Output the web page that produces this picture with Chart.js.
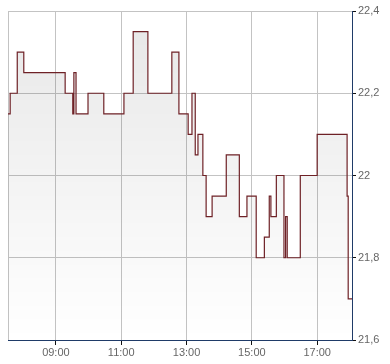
<!DOCTYPE html>
<html>
<head>
<meta charset="utf-8">
<script src="https://cdn.jsdelivr.net/npm/chart.js@4/dist/chart.umd.min.js"></script>
<style>
html,body{margin:0;padding:0;background:#fff;}
#wrap{width:390px;height:364px;position:relative;}
</style>
</head>
<body>
<div id="wrap"><canvas id="c"></canvas></div>
<script>
const times = ['07:32','07:36','07:49','08:01','09:17','09:31','09:33','09:37','09:59','10:28','11:05','11:22','11:49','12:33','12:46','13:03','13:10','13:16','13:21','13:30','13:36','13:47','14:13','14:37','14:51','15:08','15:23','15:32','15:35','15:45','15:59','16:02','16:05','16:29','17:00','17:55','17:57','18:04'];
const prices = [22.15,22.2,22.3,22.25,22.2,22.15,22.25,22.15,22.2,22.15,22.2,22.35,22.2,22.3,22.15,22.1,22.2,22.05,22.1,22.0,21.9,21.95,22.05,21.9,21.95,21.8,21.85,21.95,21.9,22.0,21.8,21.9,21.8,22.0,22.1,21.95,21.7,21.7];
const xTickLabels = ['09:00','11:00','13:00','15:00','17:00'];
const yTickValues = [21.6,21.8,22.0,22.2,22.4];
const xRange = ['07:32','18:04'];

function toMin(s){const p=s.split(':');return (+p[0])*60+(+p[1]);}
function fmtMin(m){const h=Math.floor(m/60),mm=Math.round(m%60);return String(h).padStart(2,'0')+':'+String(mm).padStart(2,'0');}
const points = times.map((t,i)=>({x:toMin(t),y:prices[i]}));

const edgePlugin = {
  id:'edge',
  beforeDatasetsDraw(chart){
    const {ctx, chartArea:a} = chart;
    ctx.save();
    ctx.strokeStyle = '#c3c3c3';
    ctx.lineWidth = 1;
    ctx.beginPath();
    ctx.moveTo(Math.round(a.left)+0.5, a.top);
    ctx.lineTo(Math.round(a.left)+0.5, a.bottom);
    ctx.stroke();
    ctx.restore();
  }
};

const ctx = document.getElementById('c').getContext('2d');
new Chart(ctx, {
  type:'line',
  data:{
    datasets:[{
      data:points,
      stepped:true,
      borderColor:'#6e2126',
      borderWidth:1.2,
      pointRadius:0,
      fill:'start',
      backgroundColor(context){
        const a = context.chart.chartArea;
        if(!a) return 'rgba(0,0,0,0.08)';
        const g = context.chart.ctx.createLinearGradient(0,a.top,0,a.bottom);
        g.addColorStop(0,'rgba(0,0,0,0.095)');
        g.addColorStop(1,'rgba(0,0,0,0.0)');
        return g;
      }
    }]
  },
  options:{
    responsive:true,
    maintainAspectRatio:false,
    animation:false,
    layout:{padding:{left:8,top:11,right:0,bottom:0}},
    plugins:{legend:{display:false},tooltip:{enabled:false}},
    scales:{
      x:{
        type:'linear',
        min:toMin(xRange[0]),
        max:toMin(xRange[1]),
        afterBuildTicks(scale){scale.ticks = xTickLabels.map(t=>({value:toMin(t)}));},
        afterFit(scale){scale.height = 24;},
        ticks:{
          callback:(v)=>fmtMin(v),
          color:'#666',
          font:{family:'"Liberation Sans", Arial, sans-serif',size:11},
          padding:1,
          maxRotation:0,
          autoSkip:false
        },
        grid:{color:'#c3c3c3',tickColor:'#111',tickLength:5,lineWidth:1},
        border:{color:'#1f3b68',width:1}
      },
      y:{
        position:'right',
        min:yTickValues[0],
        max:yTickValues[yTickValues.length-1],
        afterBuildTicks(scale){scale.ticks = yTickValues.map(v=>({value:v}));},
        afterFit(scale){scale.width = 38;},
        ticks:{
          callback:(v)=>String(Number(v.toFixed(1))).replace('.',','),
          color:'#666',
          font:{family:'"Liberation Sans", Arial, sans-serif',size:11},
          padding:2
        },
        grid:{color:'#c3c3c3',tickColor:'#111',tickLength:4,lineWidth:1},
        border:{color:'#1f3b68',width:1}
      }
    }
  },
  plugins:[edgePlugin]
});
</script>
</body>
</html>
